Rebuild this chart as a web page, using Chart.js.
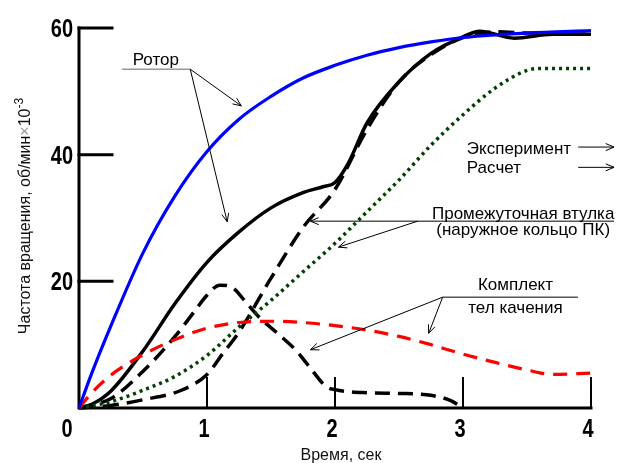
<!DOCTYPE html>
<html>
<head>
<meta charset="utf-8">
<script src="https://cdn.jsdelivr.net/npm/chart.js@4.4.1/dist/chart.umd.min.js"></script>
<style>
  html, body { margin: 0; padding: 0; background: #fff; }
  #wrap { width: 621px; height: 463px; }
</style>
</head>
<body>
<div id="wrap"><canvas id="chart" width="621" height="463"></canvas></div>
<script>
// tick labels
const xTicks = [0, 1, 2, 3, 4];
const yTicks = [20, 40, 60];

// Ротор, расчет (синяя)
const rotorCalcT = [0, 0.1, 0.25, 0.5, 0.75, 1, 1.25, 1.5, 1.75, 2, 2.25, 2.5, 2.75, 3, 3.5, 4];
const rotorCalcV = [0, 5.5, 13, 24.5, 33.5, 40.5, 45.6, 49.2, 52.1, 54.1, 55.7, 56.9, 57.8, 58.5, 59.2, 59.6];

// Комплект тел качения, расчет (красная)
const ballsCalcT = [0, 0.1, 0.25, 0.5, 0.75, 1, 1.25, 1.5, 1.75, 2, 2.25, 2.5, 2.75, 3, 3.25, 3.5, 3.7, 4];
const ballsCalcV = [0, 2.4, 5.2, 8.4, 10.8, 12.6, 13.5, 13.7, 13.5, 13, 12.3, 11.3, 10, 8.5, 7.2, 6, 5.3, 5.5];

// Промежуточная втулка, расчет (зеленая)
const sleeveCalcT = [0, 0.25, 0.5, 0.75, 1, 1.25, 1.5, 1.75, 2, 2.25, 2.5, 2.75, 3, 3.25, 3.5, 3.6, 4];
const sleeveCalcV = [0, 1, 2.8, 5, 8.3, 12.8, 17, 21.5, 26, 31, 36, 41.5, 46.3, 50.5, 53.3, 53.6, 53.6];

// Ротор, эксперимент (черная сплошная)
const rotorExpT = [0, 0.1, 0.25, 0.5, 0.75, 1, 1.25, 1.5, 1.75, 1.9, 2, 2.1, 2.25, 2.5, 2.75, 3, 3.13, 3.4, 3.7, 4];
const rotorExpV = [0, 0.6, 2.7, 9, 16.5, 23, 27.8, 31.6, 34, 34.9, 35.6, 38.5, 45, 51.5, 56, 58.6, 59.5, 58.4, 59, 59];

// Промежуточная втулка, эксперимент (черная штриховая)
const sleeveExpT = [0, 0.25, 0.5, 0.8, 1, 1.12, 1.25, 1.5, 1.75, 2, 2.25, 2.5, 2.75, 3, 3.25, 3.5, 4];
const sleeveExpV = [0, 0.4, 1.3, 2.8, 5.3, 8.5, 12, 20.5, 28.5, 34.5, 44, 51.5, 55.8, 58.5, 59.4, 59.2, 59];

// Комплект тел качения, эксперимент (черная штриховая с горбом)
const ballsExpT = [0, 0.25, 0.5, 0.75, 0.9, 1, 1.1, 1.2, 1.3, 1.4, 1.55, 1.7, 1.8, 1.93, 2, 2.25, 2.5, 2.75, 2.9, 3];
const ballsExpV = [0, 1.5, 5.8, 11.3, 15.2, 17.8, 19.4, 19, 16.8, 14.5, 11.8, 9, 6.5, 3.4, 2.9, 2.4, 2.3, 2, 1.2, 0];

function pts(t, v) {
  return t.map((x, i) => ({ x: x, y: v[i] }));
}

const TITLE_FONT = '"Liberation Sans", Arial, sans-serif';

// decorations: axes, tick labels, titles
const axesPlugin = {
  id: 'axesPlugin',
  beforeDatasetsDraw(chart) {
    const ctx = chart.ctx;
    const xs = chart.scales.x, ys = chart.scales.y;
    const x0 = xs.getPixelForValue(0), y0 = ys.getPixelForValue(0);
    const yTop = ys.getPixelForValue(60), xEnd = xs.getPixelForValue(4);
    ctx.save();
    ctx.strokeStyle = '#000';
    ctx.lineCap = 'square';
    // left and bottom axis lines
    ctx.lineWidth = 3;
    ctx.beginPath();
    ctx.moveTo(x0, yTop);
    ctx.lineTo(x0, y0);
    ctx.lineTo(xEnd, y0);
    ctx.stroke();
    // y ticks: short horizontal strokes inward
    yTicks.forEach(v => {
      const y = ys.getPixelForValue(v);
      ctx.beginPath();
      ctx.moveTo(x0, y);
      ctx.lineTo(x0 + 33, y);
      ctx.stroke();
    });
    // x ticks: short vertical strokes upward
    ctx.lineWidth = 2;
    xTicks.slice(1).forEach(v => {
      const x = xs.getPixelForValue(v);
      ctx.beginPath();
      ctx.moveTo(x, y0);
      ctx.lineTo(x, y0 - 30);
      ctx.stroke();
    });
    // tick labels, squeezed to look like the condensed print of the original
    ctx.fillStyle = '#000';
    ctx.font = 'bold 25px "Liberation Sans", Arial, sans-serif';
    ctx.textBaseline = 'alphabetic';
    const sq = 0.8;
    ctx.textAlign = 'right';
    yTicks.forEach(v => {
      ctx.save();
      ctx.translate(x0 - 6, ys.getPixelForValue(v) + 9);
      ctx.scale(sq, 1);
      ctx.fillText(String(v), 0, 0);
      ctx.restore();
    });
    ctx.textAlign = 'center';
    xTicks.forEach(v => {
      ctx.save();
      ctx.translate(xs.getPixelForValue(v) + (v === 0 ? -12 : -3), y0 + 29);
      ctx.scale(sq, 1);
      ctx.fillText(String(v), 0, 0);
      ctx.restore();
    });
    // axis titles
    ctx.font = '16px ' + TITLE_FONT;
    ctx.fillStyle = '#111';
    ctx.fillText('Время, сек', (x0 + xEnd) / 2 + 6, y0 + 52);

    ctx.translate(30, 216);
    ctx.rotate(-Math.PI / 2);
    const main = 'Частота вращения, об/мин';
    ctx.font = '16px ' + TITLE_FONT;
    const wMain = ctx.measureText(main).width;
    const wX = ctx.measureText('×').width;
    const wTen = ctx.measureText('10').width;
    ctx.font = '12px ' + TITLE_FONT;
    const wSup = ctx.measureText('-3').width;
    let cx = -(wMain + wX + wTen + wSup) / 2;
    ctx.textAlign = 'left';
    ctx.font = '16px ' + TITLE_FONT;
    ctx.fillText(main, cx, 0);
    cx += wMain;
    ctx.fillStyle = '#999';
    ctx.fillText('×', cx, 0);
    cx += wX;
    ctx.fillStyle = '#111';
    ctx.fillText('10', cx, 0);
    cx += wTen;
    ctx.font = '12px ' + TITLE_FONT;
    ctx.fillText('-3', cx, -7);
    ctx.restore();
  }
};

// callouts, given in data units and placed through the scales
const labelPlugin = {
  id: 'labelPlugin',
  afterDatasetsDraw(chart) {
    const ctx = chart.ctx;
    const xs = chart.scales.x, ys = chart.scales.y;
    const P = (x, y) => [xs.getPixelForValue(x), ys.getPixelForValue(y)];

    function line(a, b, color) {
      ctx.strokeStyle = color || '#000';
      ctx.beginPath();
      ctx.moveTo(a[0], a[1]);
      ctx.lineTo(b[0], b[1]);
      ctx.stroke();
    }
    function arrow(a, b) {
      line(a, b);
      const ang = Math.atan2(b[1] - a[1], b[0] - a[0]);
      const len = 9;
      ctx.beginPath();
      ctx.moveTo(b[0] - len * Math.cos(ang - 0.4), b[1] - len * Math.sin(ang - 0.4));
      ctx.lineTo(b[0], b[1]);
      ctx.lineTo(b[0] - len * Math.cos(ang + 0.4), b[1] - len * Math.sin(ang + 0.4));
      ctx.stroke();
    }
    function text(s, p, align) {
      ctx.textAlign = align || 'left';
      ctx.fillText(s, p[0], p[1]);
    }

    ctx.save();
    ctx.lineWidth = 1;
    ctx.fillStyle = '#000';
    ctx.font = '17px ' + TITLE_FONT;
    ctx.textBaseline = 'alphabetic';

    // Ротор
    text('Ротор', P(0.42, 54.2));
    line(P(0.337, 53.5), P(0.869, 53.5), '#666');
    arrow(P(0.869, 53.5), P(1.268, 47.7));
    arrow(P(0.869, 53.5), P(1.158, 29.4));

    // legend of line kinds
    text('Эксперимент', P(3.03, 40.1));
    arrow(P(3.9, 41.2), P(4.18, 41.2));
    text('Расчет', P(3.03, 37.1));
    arrow(P(3.9, 38.0), P(4.18, 38.0));

    // Промежуточная втулка
    text('Промежуточная втулка', P(3.47, 29.9), 'center');
    text('(наружное кольцо ПК)', P(3.47, 27.3), 'center');
    arrow(P(4.18, 29.5), P(1.808, 29.5));
    arrow(P(2.646, 29.5), P(2.027, 25.4));

    // Комплект тел качения
    text('Комплект', P(3.41, 18.6), 'center');
    text('тел качения', P(3.41, 15.0), 'center');
    line(P(2.841, 17.5), P(3.898, 17.5));
    arrow(P(2.841, 17.5), P(1.808, 9.2));
    arrow(P(2.841, 17.5), P(2.732, 11.8));
    ctx.restore();
  }
};

const ctx = document.getElementById('chart').getContext('2d');
new Chart(ctx, {
  type: 'line',
  data: {
    datasets: [
      { data: pts(rotorCalcT, rotorCalcV), borderColor: '#0000ff', borderWidth: 3.2 },
      { data: pts(ballsCalcT, ballsCalcV), borderColor: '#ff0000', borderWidth: 3.2, borderDash: [14, 9] },
      { data: pts(sleeveCalcT, sleeveCalcV), borderColor: '#004000', borderWidth: 3.5, borderDash: [3, 4] },
      { data: pts(rotorExpT, rotorExpV), borderColor: '#000', borderWidth: 3.5 },
      { data: pts(sleeveExpT, sleeveExpV), borderColor: '#000', borderWidth: 3.5, borderDash: [16, 8] },
      { data: pts(ballsExpT, ballsExpV), borderColor: '#000', borderWidth: 3.5, borderDash: [15, 8] }
    ]
  },
  options: {
    responsive: false,
    animation: false,
    layout: { padding: { left: 79, right: 30, top: 28, bottom: 55 } },
    elements: {
      point: { radius: 0 },
      line: { cubicInterpolationMode: 'monotone', borderCapStyle: 'butt', fill: false }
    },
    datasets: { line: { clip: 10 } },
    scales: {
      x: { type: 'linear', min: 0, max: 4, display: false },
      y: { type: 'linear', min: 0, max: 60, display: false }
    },
    plugins: { legend: { display: false }, tooltip: { enabled: false } }
  },
  plugins: [axesPlugin, labelPlugin]
});
</script>
</body>
</html>
